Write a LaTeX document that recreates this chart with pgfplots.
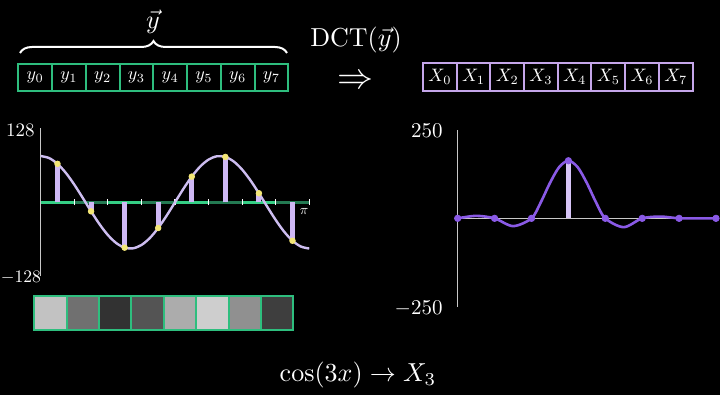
\documentclass[border=0pt]{standalone}
\usepackage{pgfplots}
\pgfplotsset{compat=1.18}
\usetikzlibrary{decorations.pathreplacing}
\definecolor{boxgreen}{HTML}{2EBE7E}
\definecolor{axgreen}{HTML}{35CF85}
\definecolor{axdark}{HTML}{237A52}
\definecolor{boxpurple}{HTML}{C5A6EA}
\definecolor{curvelav}{HTML}{CDBDF0}
\definecolor{stemlav}{HTML}{CFB8F5}
\definecolor{dotyellow}{HTML}{F3E676}
\definecolor{violetc}{HTML}{8A5AE6}
\definecolor{stemlav2}{HTML}{D7C5F7}
\definecolor{axgray}{HTML}{C8C8C8}
\begin{document}
\begin{tikzpicture}[x=0.5pt,y=0.5pt]
\useasboundingbox (0,0) rectangle (720,395);
\clip (0,0) rectangle (720,395);
\fill[black] (0,0) rectangle (720,395);
% brace and y vector
\draw[white, line width=1pt, decorate, decoration={brace, amplitude=6pt}] (20,395-53) -- (287,395-53);
\node[text=white, scale=1.3] at (153,395-22) {$\vec{y}$};
% top green boxes
\foreach \i in {0,...,7} {
  \draw[boxgreen, line width=1pt] ({18.3+33.75*\i},395-90.7) rectangle ({18.3+33.75*(\i+1)},395-64);
  \node[text=white, scale=0.9] at ({18.3+33.75*(\i+0.5)},395-77.5) {$y_{\i}$};
}
% DCT and arrow
\node[text=white, scale=1.3] at (356,395-40) {$\mathrm{DCT}(\vec{y})$};
\node[text=white, scale=1.8] at (355,395-82) {$\Rightarrow$};
% purple boxes
\foreach \i in {0,...,7} {
  \draw[boxpurple, line width=1pt] ({423+33.7*\i},395-90.7) rectangle ({423+33.7*(\i+1)},395-63.5);
  \node[text=white, scale=0.9] at ({423+33.7*(\i+0.5)},395-77.2) {$X_{\i}$};
}
% left labels
\node[text=white, anchor=east, inner sep=0pt, scale=0.95] at (35,395-130) {$128$};
\node[text=white, anchor=west, inner sep=0pt, scale=0.88] at (0.6,395-277.7) {$-128$};
\node[text=white, scale=0.7] at (304,395-211.7) {$\pi$};
% right labels
\node[text=white, anchor=east, inner sep=0pt, scale=1.05] at (443,395-130.7) {$250$};
\node[text=white, anchor=east, inner sep=0pt, scale=1.05] at (443,395-309) {$-250$};
% bottom formula
\node[text=white, scale=1.3] at (358,395-375) {$\cos(3x)\rightarrow X_3$};

% ---------- left plot: samples of cos(3x)
\begin{axis}[at={(20.35pt,59.35pt)}, anchor=south west, scale only axis,
  width=134.3pt, height=74pt, xmin=0, xmax=8, ymin=-128, ymax=128,
  hide axis, clip=false]
\draw[axgray, line width=0.6pt] (axis cs:0,-128) -- (axis cs:0,128);
\addplot[axgreen, line width=1.3pt] coordinates {(0,0)(1,0)};
\addplot[axdark, line width=1.3pt] coordinates {(1,0)(2,0)};
\addplot[axgreen, line width=1.3pt] coordinates {(2,0)(3,0)};
\addplot[axdark, line width=1.3pt] coordinates {(3,0)(4,0)};
\addplot[axgreen, line width=1.3pt] coordinates {(4,0)(5,0)};
\addplot[axdark, line width=1.3pt] coordinates {(5,0)(6,0)};
\addplot[axgreen, line width=1.3pt] coordinates {(6,0)(7,0)};
\addplot[axdark, line width=1.3pt] coordinates {(7,0)(8,0)};
\pgfplotsinvokeforeach{1,...,8}{\draw[white, line width=0.6pt] (axis cs:#1,-5) -- (axis cs:#1,5);}
\addplot[ycomb, color=stemlav, line width=2.5pt] coordinates {
(0.5,66.52)(1.5,-15.61)(2.5,-78.46)(3.5,-44.45)(4.5,44.45)(5.5,78.46)(6.5,15.61)(7.5,-66.52)};
\addplot[curvelav, line width=1.2pt, smooth] coordinates {
(0,80)(0.25,76.55)(0.5,66.52)(0.75,50.75)(1,30.61)(1.25,7.84)(1.5,-15.61)(1.75,-37.71)
(2,-56.57)(2.25,-70.55)(2.5,-78.46)(2.75,-79.61)(3,-73.91)(3.25,-61.84)(3.5,-44.45)(3.75,-23.22)
(4,0)(4.25,23.22)(4.5,44.45)(4.75,61.84)(5,73.91)(5.25,79.61)(5.5,78.46)(5.75,70.55)
(6,56.57)(6.25,37.71)(6.5,15.61)(6.75,-7.84)(7,-30.61)(7.25,-50.75)(7.5,-66.52)(7.75,-76.55)(8,-80)};
\addplot[only marks, mark=*, mark size=1.4pt, color=dotyellow] coordinates {
(0.5,66.52)(1.5,-15.61)(2.5,-78.46)(3.5,-44.45)(4.5,44.45)(5.5,78.46)(6.5,15.61)(7.5,-66.52)};
\end{axis}

% ---------- grayscale pixels
\begin{axis}[at={(17.15pt,32.5pt)}, anchor=south west, scale only axis,
  width=129.5pt, height=17pt, xmin=0, xmax=8, ymin=0, ymax=1,
  hide axis, clip=false, ybar, bar width=1, bar shift=0pt]
\addplot[draw=boxgreen, line width=1pt, fill={rgb,255:red,194;green,194;blue,194}] coordinates {(0.5,1)};
\addplot[draw=boxgreen, line width=1pt, fill={rgb,255:red,112;green,112;blue,112}] coordinates {(1.5,1)};
\addplot[draw=boxgreen, line width=1pt, fill={rgb,255:red,50;green,50;blue,50}] coordinates {(2.5,1)};
\addplot[draw=boxgreen, line width=1pt, fill={rgb,255:red,84;green,84;blue,84}] coordinates {(3.5,1)};
\addplot[draw=boxgreen, line width=1pt, fill={rgb,255:red,172;green,172;blue,172}] coordinates {(4.5,1)};
\addplot[draw=boxgreen, line width=1pt, fill={rgb,255:red,206;green,206;blue,206}] coordinates {(5.5,1)};
\addplot[draw=boxgreen, line width=1pt, fill={rgb,255:red,144;green,144;blue,144}] coordinates {(6.5,1)};
\addplot[draw=boxgreen, line width=1pt, fill={rgb,255:red,62;green,62;blue,62}] coordinates {(7.5,1)};
\end{axis}

% ---------- right plot: DCT coefficients
\begin{axis}[at={(228.85pt,44.15pt)}, anchor=south west, scale only axis,
  width=129.15pt, height=88.35pt, xmin=0, xmax=7, ymin=-250, ymax=250,
  hide axis, clip=false]
\draw[axgray, line width=0.6pt] (axis cs:0,-250) -- (axis cs:0,250);
\draw[axgray, line width=0.6pt] (axis cs:0,0) -- (axis cs:7,0);
\addplot[ycomb, color=stemlav2, line width=2.5pt] coordinates {(3,163)};
\addplot[violetc, line width=1.3pt, smooth] coordinates {
(0,0)(0.5,7)(1,0)(1.5,-22)(2,0)(2.25,45)(2.5,100)(2.75,145)(3,163)
(3.25,145)(3.5,100)(3.75,45)(4,0)(4.5,-25)(5,0)(5.5,5)(6,0)(6.5,0)(7,0)};
\addplot[only marks, mark=*, mark size=1.6pt, color=violetc] coordinates {
(0,0)(1,0)(2,0)(3,163)(4,0)(5,0)(6,0)(7,0)};
\end{axis}
\end{tikzpicture}
\end{document}
